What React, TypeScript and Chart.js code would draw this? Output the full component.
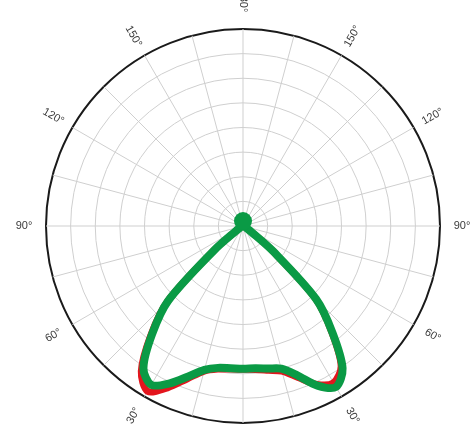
import { useEffect, useRef } from "react";
import { Chart, registerables } from "chart.js";

Chart.register(...registerables);

// Angular sampling of the intensity curves (gamma, degrees from nadir)
const STEP_DEG = 5;
const SCALE_MAX = 8;
const ANGLE_LINE_EVERY = 15; // degrees between radial grid lines

// Intensity values (in grid-ring units) for gamma = 0,5,...,180
const GREEN_LEFT = [
  5.8, 5.8, 5.85, 6.05, 6.5, 7.05, 7.45, 7.05, 5.75, 4.3, 1.5, 0.35, 0.14,
  0.13, 0.13, 0.13, 0.13, 0.13, 0.13, 0.13, 0.13, 0.13, 0.14, 0.14, 0.15,
  0.15, 0.16, 0.16, 0.17, 0.17, 0.18, 0.18, 0.19, 0.19, 0.2, 0.2, 0.2,
];
const GREEN_RIGHT = [
  5.8, 5.8, 5.88, 6.0, 6.45, 7.15, 7.55, 7.05, 5.65, 4.2, 1.6, 0.4, 0.14,
  0.13, 0.13, 0.13, 0.13, 0.13, 0.13, 0.13, 0.13, 0.13, 0.14, 0.14, 0.15,
  0.15, 0.16, 0.16, 0.17, 0.17, 0.18, 0.18, 0.19, 0.19, 0.2, 0.2, 0.2,
];
const RED_LEFT = [
  5.82, 5.83, 5.9, 6.1, 6.6, 7.25, 7.75, 7.2, 5.85, 4.35, 1.55, 0.35, 0.14,
  0.13, 0.13, 0.13, 0.13, 0.13, 0.13, 0.13, 0.13, 0.13, 0.14, 0.14, 0.15,
  0.15, 0.16, 0.16, 0.17, 0.17, 0.18, 0.18, 0.19, 0.19, 0.2, 0.2, 0.2,
];
const RED_RIGHT = [
  5.82, 5.85, 5.95, 6.1, 6.55, 7.1, 7.35, 6.95, 5.6, 4.15, 1.55, 0.4, 0.14,
  0.13, 0.13, 0.13, 0.13, 0.13, 0.13, 0.13, 0.13, 0.13, 0.14, 0.14, 0.15,
  0.15, 0.16, 0.16, 0.17, 0.17, 0.18, 0.18, 0.19, 0.19, 0.2, 0.2, 0.2,
];

// Angle labels shown around the diagram
const LABEL_ANGLES = [30, 60, 90, 120, 150];
const TOP_LABEL = "180°";

const N = 360 / STEP_DEG;

// Build full-circle series: index 0 at bottom, going clockwise through the left half
function buildSeries(left: number[], right: number[]): number[] {
  const out: number[] = [];
  for (let i = 0; i < N; i++) {
    if (i <= N / 2) out.push(left[i]);
    else out.push(right[N - i]);
  }
  return out;
}

const CATEGORY_LABELS: string[] = Array.from({ length: N }, (_, i) => {
  const g = i <= N / 2 ? i * STEP_DEG : 360 - i * STEP_DEG;
  return `${g}°`;
});

const labelPlugin = {
  id: "gammaLabels",
  afterDraw(chart: any) {
    const scale = chart.scales.r;
    const ctx = chart.ctx as CanvasRenderingContext2D;
    const dist = scale.drawingArea + 22;
    ctx.save();
    ctx.font = '11px "Liberation Sans", Arial, sans-serif';
    ctx.fillStyle = "#3a3a3a";
    ctx.textAlign = "center";
    ctx.textBaseline = "middle";
    const drawAt = (index: number, text: string, rotDeg: number, d: number) => {
      const p = scale.getPointPosition(index, d);
      ctx.save();
      ctx.translate(p.x, p.y);
      ctx.rotate((rotDeg * Math.PI) / 180);
      ctx.fillText(text, 0, 0);
      ctx.restore();
    };
    LABEL_ANGLES.forEach((g) => {
      drawAt(g / STEP_DEG, `${g}°`, g - 90, dist);
      drawAt((360 - g) / STEP_DEG, `${g}°`, 90 - g, dist);
    });
    drawAt(180 / STEP_DEG, TOP_LABEL, 90, dist + 6);
    ctx.restore();
  },
};

export default function App() {
  const ref = useRef<HTMLCanvasElement | null>(null);
  useEffect(() => {
    document.body.style.margin = "0";
    if (!ref.current) return;
    const every = ANGLE_LINE_EVERY / STEP_DEG;
    const topIndex = N / 2;
    const chart = new Chart(ref.current, {
      type: "radar",
      data: {
        labels: CATEGORY_LABELS,
        datasets: [
          {
            label: "C90-C270",
            data: buildSeries(GREEN_LEFT, GREEN_RIGHT),
            borderColor: "#0a9a45",
            borderWidth: 8,
            pointRadius: (c: any) => (c.dataIndex === topIndex ? 9 : 0),
            pointBackgroundColor: "#0a9a45",
            pointBorderWidth: 0,
            pointHoverRadius: 0,
            fill: false,
            tension: 0.3,
            borderJoinStyle: "round",
            borderCapStyle: "round",
          },
          {
            label: "C0-C180",
            data: buildSeries(RED_LEFT, RED_RIGHT),
            borderColor: "#e3151d",
            borderWidth: 7,
            pointRadius: 0,
            fill: false,
            tension: 0.3,
            borderJoinStyle: "round",
            borderCapStyle: "round",
          },
        ],
      },
      options: {
        animation: false,
        responsive: true,
        maintainAspectRatio: false,
        layout: { padding: { left: 46, right: 36, top: 29, bottom: 2 } },
        plugins: { legend: { display: false }, tooltip: { enabled: false } },
        scales: {
          r: {
            min: 0,
            max: SCALE_MAX,
            startAngle: 180,
            ticks: { display: false, stepSize: 1 },
            pointLabels: { display: false },
            grid: {
              circular: true,
              color: (c: any) => (c.tick && c.tick.value === SCALE_MAX ? "#1a1a1a" : "#cfcfcf"),
              lineWidth: (c: any) => (c.tick && c.tick.value === SCALE_MAX ? 2 : 1),
            },
            angleLines: {
              display: true,
              color: (c: any) => (c.index % every === 0 ? "#cfcfcf" : "rgba(0,0,0,0)"),
              lineWidth: (c: any) => (c.index % every === 0 ? 1 : 0),
            },
          },
        },
      },
      plugins: [labelPlugin],
    });
    return () => chart.destroy();
  }, []);
  return (
    <div style={{ position: "absolute", left: 0, top: 0, width: 476, height: 425, background: "#fff" }}>
      <canvas ref={ref} />
    </div>
  );
}
